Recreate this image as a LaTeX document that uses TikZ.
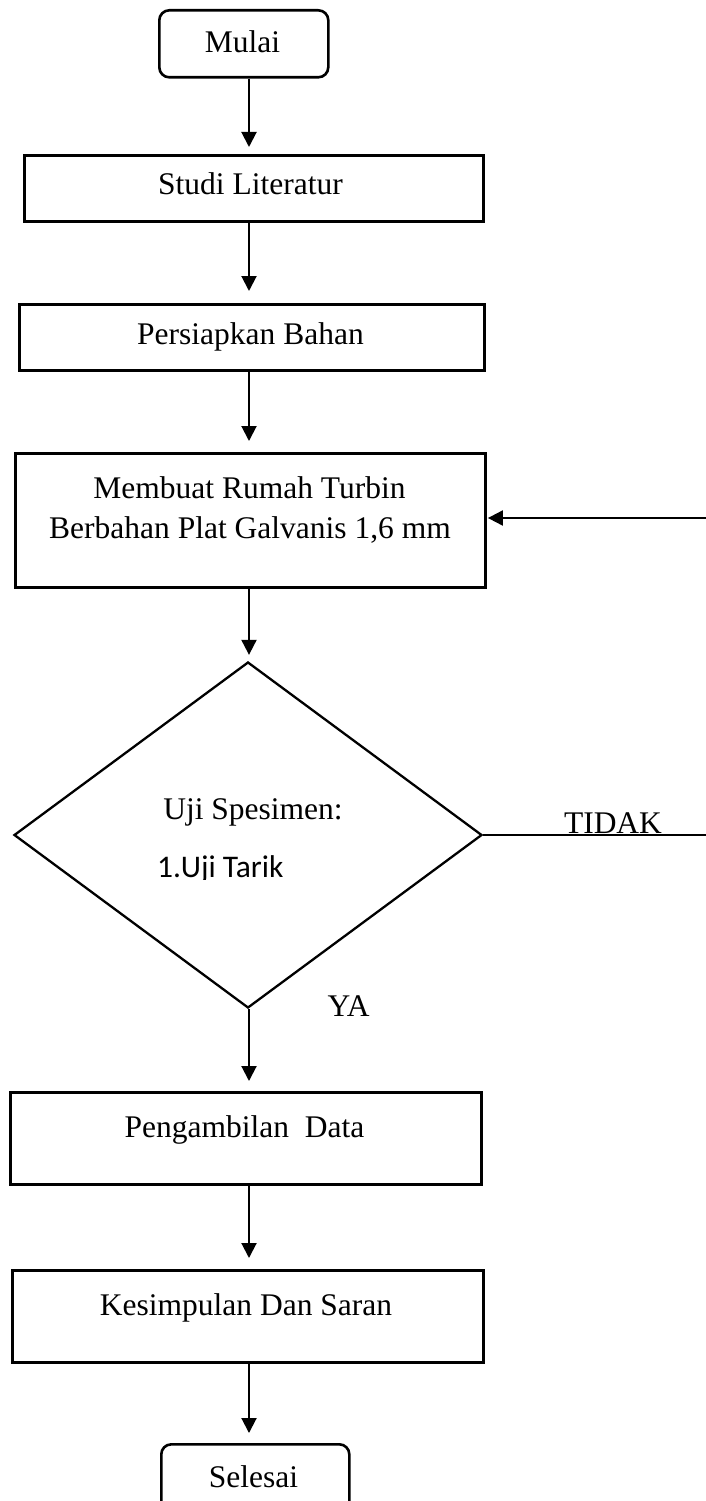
\documentclass[tikz,border=0pt]{standalone}
\usepackage{fontspec}
\setmainfont{Liberation Serif}
\newfontfamily\calibfont{Carlito}
\usetikzlibrary{arrows.meta,shapes.geometric}
\begin{document}
\begin{tikzpicture}[x=1pt,y=-1pt,
  box/.style={draw, line width=2.6pt, inner sep=0pt, anchor=north west},
  term/.style={box, rounded corners=10pt},
  txt/.style={inner sep=0pt, anchor=base, font=\fontsize{31.5}{38}\selectfont},
  flow/.style={line width=2pt, -{Triangle[width=15pt,length=15pt]}},
]
\useasboundingbox (0,0) rectangle (706,1501);
\coordinate (axis) at (249,0);
% nodes
\node[term, minimum width=169pt, minimum height=67pt] (mulai) at (158,9) {};
\node[box, minimum width=459pt, minimum height=66pt] (studi) at (23,154) {};
\node[box, minimum width=465pt, minimum height=66pt] (persiapkan) at (18,303) {};
\node[box, minimum width=470pt, minimum height=134pt] (membuat) at (14,452) {};
\node[diamond, draw, line width=2.3pt, inner sep=0pt, minimum width=468pt, minimum height=346pt] (dia) at (248,835) {};
\node[box, minimum width=471pt, minimum height=92pt] (pengambilan) at (9,1091) {};
\node[box, minimum width=471pt, minimum height=92pt] (kesimpulan) at (11,1269) {};
\node[term, minimum width=188pt, minimum height=72pt] (selesai) at (160,1443) {};
% thin part of top border of Studi Literatur
\draw[white, line width=1.3pt] (104,152.6) -- (398,152.6);
% texts
\node[txt] (tmulai) at (242.5,53) {Mulai};
\node[txt] (tstudi) at (250.5,194) {Studi Literatur};
\node[txt] (tpers) at (250.5,344) {Persiapkan Bahan};
\node[txt] (tmemb1) at (249.5,498) {Membuat Rumah Turbin};
\node[txt] (tmemb2) at (250,538) {Berbahan Plat Galvanis 1,6 mm};
\node[txt] (tuji) at (253,819) {Uji Spesimen:};
\begin{scope}
  \clip (100,840) rectangle (320,879);
  \node[txt, anchor=base west, font=\calibfont\fontsize{31.5}{38}\selectfont] (ttarik) at (157,877) {1.Uji Tarik};
\end{scope}
\node[txt] (ttidak) at (613,833) {TIDAK};
\node[txt] (tya) at (348.5,1016) {YA};
\node[txt] (tpeng) at (244.5,1137) {Pengambilan~~Data};
\node[txt] (tkes) at (246,1315) {Kesimpulan Dan Saran};
\node[txt] (tsel) at (253.5,1487) {Selesai};
% connectors
\draw[flow, shorten >=7pt] (mulai.south -| axis) -- (studi.north -| axis);
\draw[flow, shorten >=12pt] (studi.south -| axis) -- (persiapkan.north -| axis);
\draw[flow, shorten >=11pt] (persiapkan.south -| axis) -- (membuat.north -| axis);
\draw[flow, shorten >=6pt] (membuat.south -| axis) -- (dia.north -| axis);
\draw[flow, shorten >=10pt] (dia.south -| axis) -- (pengambilan.north -| axis);
\draw[flow, shorten >=11pt] (pengambilan.south -| axis) -- (kesimpulan.north -| axis);
\draw[flow, shorten >=10pt] (kesimpulan.south -| axis) -- (selesai.north -| axis);
\coordinate (fbstart) at (706,518);
\coordinate (tidakend) at (706,835);
\draw[flow, shorten >=1.3pt] (fbstart) -- (fbstart -| membuat.east);
\draw[line width=1.2pt] (dia.east) -- (tidakend);
\end{tikzpicture}
\end{document}
